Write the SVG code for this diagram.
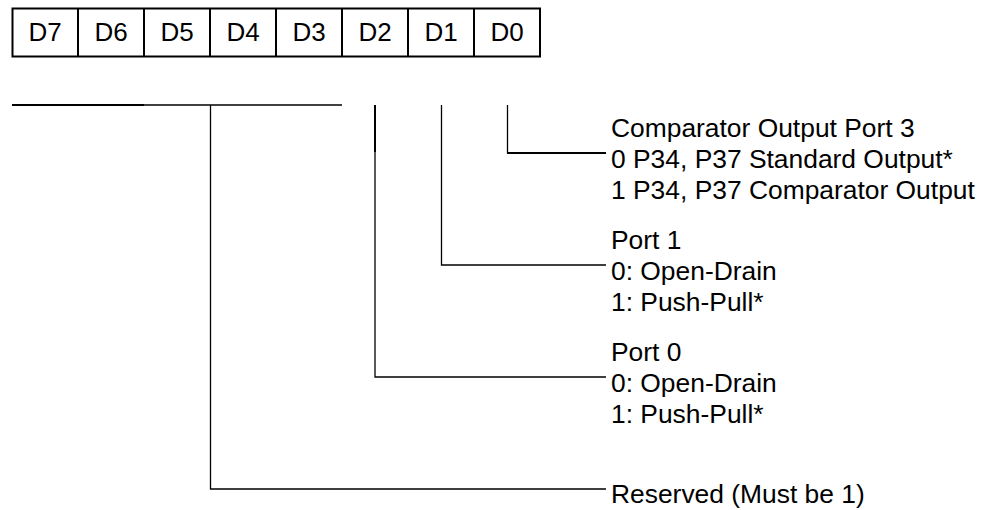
<svg xmlns="http://www.w3.org/2000/svg" width="984" height="510" viewBox="0 0 984 510">
<style>
text{font-family:"Liberation Sans",Arial,sans-serif;font-size:26.4px;fill:#000}
.cell{text-anchor:middle;font-size:26px}
.ln{stroke:#000;stroke-width:1.3;fill:none}
.thk{stroke:#000;stroke-width:2;fill:none}
.box{stroke:#000;stroke-width:2;fill:#fff}
</style>
<rect width="984" height="510" fill="#fff"/>
<g id="register">
<rect class="box" x="12.5" y="8.5" width="527.5" height="48"/>
<path class="thk" d="M78 8.5V56.5M144 8.5V56.5M210 8.5V56.5M276 8.5V56.5M342 8.5V56.5M408 8.5V56.5M474 8.5V56.5"/>
<text class="cell" x="45" y="41">D7</text>
<text class="cell" x="111" y="41">D6</text>
<text class="cell" x="177" y="41">D5</text>
<text class="cell" x="243" y="41">D4</text>
<text class="cell" x="309" y="41">D3</text>
<text class="cell" x="375" y="41">D2</text>
<text class="cell" x="441" y="41">D1</text>
<text class="cell" x="507" y="41">D0</text>
</g>
<g id="connectors">
<path class="thk" d="M12 105H144"/>
<path class="ln" d="M144 105H342"/>
<path class="ln" d="M210.5 105V489H606"/>
<path class="thk" d="M375 105V152"/>
<path class="ln" d="M375 152V377H606"/>
<path class="ln" d="M441.5 105V265H606"/>
<path class="ln" d="M507.5 105V153"/>
<path class="thk" d="M507 153H606"/>
</g>
<g id="d0-label">
<text x="611" y="137">Comparator Output Port 3</text>
<text x="611" y="168">0 P34, P37 Standard Output*</text>
<text x="611" y="199">1 P34, P37 Comparator Output</text>
</g>
<g id="d1-label">
<text x="611" y="249">Port 1</text>
<text x="611" y="280">0: Open-Drain</text>
<text x="611" y="311">1: Push-Pull*</text>
</g>
<g id="d2-label">
<text x="611" y="361">Port 0</text>
<text x="611" y="392">0: Open-Drain</text>
<text x="611" y="423">1: Push-Pull*</text>
</g>
<g id="reserved-label">
<text x="611" y="503">Reserved (Must be 1)</text>
</g>
</svg>
